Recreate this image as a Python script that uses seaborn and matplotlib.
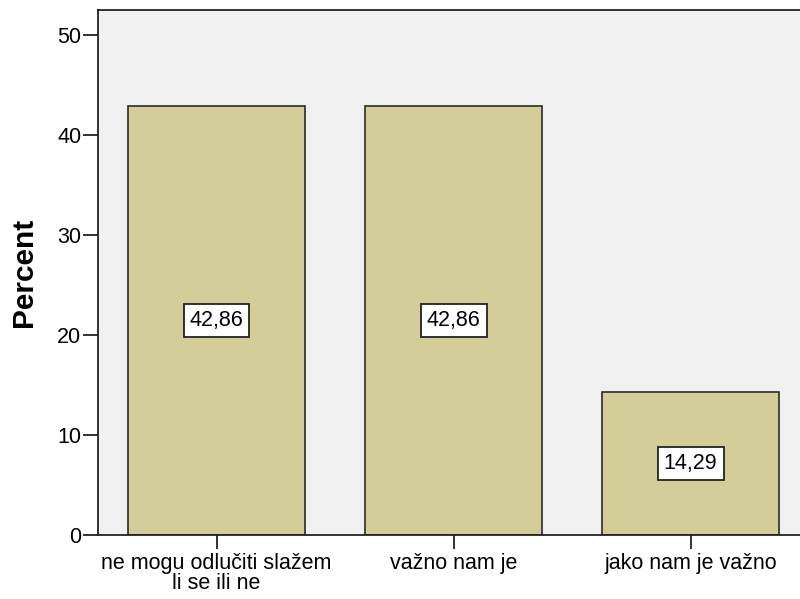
import seaborn as sns
import matplotlib.pyplot as plt
import pandas as pd

# podaci s grafa
categories = ["ne mogu odlučiti slažem\nli se ili ne", "važno nam je", "jako nam je važno"]
percents = [42.86, 42.86, 14.29]
y_ticks = [0, 10, 20, 30, 40, 50]


def plot_percent_bars():
    sns.set_style("white")
    plt.rcParams['font.family'] = ['Liberation Sans', 'DejaVu Sans']
    plt.rcParams['text.color'] = 'black'
    plt.rcParams['axes.labelcolor'] = 'black'
    plt.rcParams['xtick.color'] = 'black'
    plt.rcParams['ytick.color'] = 'black'

    df = pd.DataFrame({'kategorija': categories, 'postotak': percents})

    fig = plt.figure(figsize=(8, 5.99), dpi=100)
    # os ide malo preko desnog ruba, kao na SPSS izvozu
    ax = fig.add_axes([0.1225, 0.1068, 0.889, 0.8765])
    ax.set_facecolor('#F0F0F0')

    sns.barplot(
        data=df,
        x='kategorija',
        y='postotak',
        color='#D3CE97',
        saturation=1,
        width=0.747,
        edgecolor='#2b2b2b',
        linewidth=1.2,
        ax=ax,
    )

    # oznake vrijednosti u bijelim kućicama, na pola visine stupca
    for i, val in enumerate(df['postotak']):
        ax.text(i, val / 2, f"{val:.2f}".replace('.', ','),
                ha='center', va='center', fontsize=15.5, color='black',
                bbox=dict(boxstyle='square,pad=0.28', facecolor='white',
                          edgecolor='#222222', linewidth=1.3))

    ax.set_xlim(-0.5, 2.5)
    ax.set_ylim(0, 52.5)
    ax.set_yticks(y_ticks)
    ax.set_yticklabels([str(t) for t in y_ticks], fontsize=15.5)
    ax.set_xlabel('')
    ax.set_ylabel('Percent', fontsize=21.5, fontweight='bold')
    ax.yaxis.set_label_coords(-0.104, 0.5)
    ax.yaxis.label.set_va('center')

    for lbl in ax.get_xticklabels():
        lbl.set_fontsize(15.5)
        lbl.set_linespacing(0.95)

    ax.tick_params(axis='y', direction='out', length=11, width=1.3, color='#222222', pad=1, left=True)
    ax.tick_params(axis='x', direction='out', length=10, width=1.3, color='#222222', pad=3, bottom=True)

    for side in ['left', 'top', 'bottom']:
        ax.spines[side].set_visible(True)
        ax.spines[side].set_color('#222222')
        ax.spines[side].set_linewidth(1.3)
    ax.spines['right'].set_visible(False)

    fig.savefig('out.png', dpi=100)


if __name__ == "__main__":
    plot_percent_bars()
